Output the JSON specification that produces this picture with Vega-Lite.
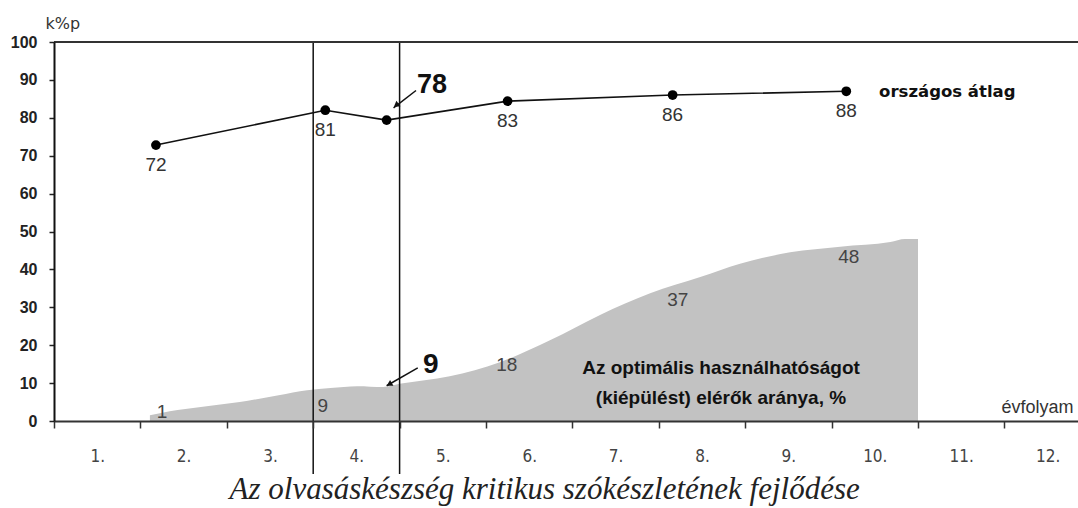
{
  "$schema": "https://vega.github.io/schema/vega-lite/v6.json",
  "width": 1024,
  "height": 379,
  "autosize": {"type": "none"},
  "padding": {"left": 54, "top": 42, "right": 0, "bottom": 87},
  "background": "white",
  "config": {"view": {"stroke": null}},
  "resolve": {"axis": {"x": "independent", "y": "independent"}},
  "title": {
    "text": "Az olvasáskészség kritikus szókészletének fejlődése",
    "orient": "bottom",
    "anchor": "middle",
    "frame": "bounds",
    "font": "Liberation Serif",
    "fontStyle": "italic",
    "fontWeight": "normal",
    "fontSize": 31,
    "color": "#222",
    "offset": 0
  },
  "datasets": {
    "kiepules": [
      {"grade": 1.11, "pct": 1.5},
      {"grade": 1.34, "pct": 2.6},
      {"grade": 1.7, "pct": 3.7},
      {"grade": 2.15, "pct": 5.0},
      {"grade": 2.6, "pct": 6.8},
      {"grade": 2.93, "pct": 8.1},
      {"grade": 3.2, "pct": 8.7},
      {"grade": 3.51, "pct": 9.2},
      {"grade": 3.81, "pct": 9.0},
      {"grade": 4.0, "pct": 9.8},
      {"grade": 4.58, "pct": 11.8},
      {"grade": 5.16, "pct": 15.5},
      {"grade": 5.74, "pct": 21.3},
      {"grade": 6.32, "pct": 28.0},
      {"grade": 6.9, "pct": 33.7},
      {"grade": 7.48, "pct": 38.0},
      {"grade": 7.94, "pct": 41.5},
      {"grade": 8.52, "pct": 44.5},
      {"grade": 9.1, "pct": 46.0},
      {"grade": 9.68, "pct": 47.2},
      {"grade": 9.85, "pct": 48.0},
      {"grade": 10.0, "pct": 48.0}
    ],
    "kiepules_labels": [
      {"grade": 1.25, "value": 2.3, "label": "1"},
      {"grade": 3.11, "value": 3.9, "label": "9"},
      {"grade": 5.24, "value": 14.8, "label": "18"},
      {"grade": 7.22, "value": 31.9, "label": "37"},
      {"grade": 9.2, "value": 43.2, "label": "48"}
    ],
    "atlag": [
      {"grade": 1.18, "value": 72.8, "label": "72"},
      {"grade": 3.14, "value": 82.0, "label": "81"},
      {"grade": 3.85, "value": 79.4, "label": ""},
      {"grade": 5.25, "value": 84.4, "label": "83"},
      {"grade": 7.16, "value": 86.0, "label": "86"},
      {"grade": 9.17, "value": 87.0, "label": "88"}
    ],
    "boundaries": [{"grade": 3}, {"grade": 4}],
    "notes": [
      {"grade": 9.55, "value": 86.7, "note": "országos átlag"}
    ],
    "areanote": [
      {"grade": 7.72, "value": 13.9, "note": "Az optimális használhatóságot\n(kiépülést) elérők aránya, %"}
    ],
    "callouts": [
      {"id": "a", "text": "78", "tgrade": 4.375, "tvalue": 88.6, "x1": 4.19, "y1": 87.2, "x2": 3.93, "y2": 82.6, "hx": 3.96, "hy": 83.3},
      {"id": "b", "text": "9", "tgrade": 4.36, "tvalue": 14.8, "x1": 4.21, "y1": 14.0, "x2": 3.85, "y2": 9.3, "hx": 3.88, "hy": 9.7}
    ]
  },
  "layer": [
    {
      "data": {"name": "kiepules"},
      "mark": {"type": "area", "color": "#c2c2c2", "interpolate": "monotone"},
      "encoding": {
        "x": {
          "field": "grade", "type": "quantitative",
          "scale": {"domain": [0, 11.852], "nice": false, "zero": false},
          "axis": {
            "values": [0, 0.5, 1, 1.5, 2, 2.5, 3, 3.5, 4, 4.5, 5, 5.5, 6, 6.5, 7, 7.5, 8, 8.5, 9, 9.5, 10, 10.5, 11, 11.5],
            "labelExpr": "datum.value % 1 === 0 ? '' : (floor(datum.value) + 1) + '.'",
            "tickOpacity": {"condition": {"test": "datum.value % 1 === 0", "value": 1}, "value": 0},
            "tickSize": 7, "tickWidth": 1.5, "tickColor": "#333",
            "domainColor": "#333", "domainWidth": 2,
            "labelFont": "Liberation Sans Narrow, DejaVu Sans Condensed, sans-serif",
            "labelFontSize": 17, "labelColor": "#444", "labelPadding": 20,
            "labelOverlap": false, "labelBound": false, "labelFlush": false,
            "grid": false,
            "title": "évfolyam", "titleX": 1019, "titleY": -14, "titleAlign": "right",
            "titleBaseline": "middle", "titleAngle": 0,
            "titleFont": "Liberation Sans", "titleFontSize": 18, "titleFontWeight": "normal", "titleColor": "#333",
            "zindex": 1
          }
        },
        "y": {
          "field": "pct", "type": "quantitative",
          "scale": {"domain": [0, 100], "nice": false},
          "axis": {
            "values": [0, 10, 20, 30, 40, 50, 60, 70, 80, 90, 100],
            "tickSize": 5, "tickWidth": 1.5, "tickColor": "#222",
            "domainColor": "#111", "domainWidth": 2,
            "labelFont": "Liberation Sans",
            "labelFontSize": 16, "labelFontWeight": "bold", "labelColor": "#222", "labelPadding": 12,
            "grid": false,
            "title": "k%p", "titleAngle": 0, "titleX": -9, "titleY": -19,
            "titleAlign": "left", "titleBaseline": "middle",
            "titleFont": "DejaVu Sans", "titleFontSize": 16, "titleFontWeight": "normal", "titleColor": "#333",
            "zindex": 1
          }
        }
      }
    },
    {
      "data": {"name": "boundaries"},
      "mark": {"type": "rule", "color": "#111", "strokeWidth": 1.5},
      "encoding": {
        "x": {"field": "grade", "type": "quantitative", "axis": null},
        "y": {"datum": -14, "type": "quantitative", "axis": null},
        "y2": {"datum": 100}
      }
    },
    {
      "data": {"values": [{}]},
      "mark": {"type": "rule", "color": "#333", "strokeWidth": 2},
      "encoding": {
        "y": {"datum": 100, "type": "quantitative", "axis": null}
      }
    },
    {
      "data": {"name": "atlag"},
      "mark": {"type": "line", "color": "#111", "strokeWidth": 1.6},
      "encoding": {
        "x": {"field": "grade", "type": "quantitative", "axis": null},
        "y": {"field": "value", "type": "quantitative", "axis": null}
      }
    },
    {
      "data": {"name": "atlag"},
      "mark": {"type": "point", "filled": true, "color": "#000", "size": 95, "opacity": 1},
      "encoding": {
        "x": {"field": "grade", "type": "quantitative", "axis": null},
        "y": {"field": "value", "type": "quantitative", "axis": null}
      }
    },
    {
      "data": {"name": "atlag"},
      "mark": {"type": "text", "font": "Liberation Sans", "fontSize": 19, "color": "#333", "dy": 20, "baseline": "middle", "align": "center"},
      "encoding": {
        "x": {"field": "grade", "type": "quantitative", "axis": null},
        "y": {"field": "value", "type": "quantitative", "axis": null},
        "text": {"field": "label"}
      }
    },
    {
      "data": {"name": "kiepules_labels"},
      "mark": {"type": "text", "font": "Liberation Sans", "fontSize": 19, "color": "#444", "baseline": "middle", "align": "center"},
      "encoding": {
        "x": {"field": "grade", "type": "quantitative", "axis": null},
        "y": {"field": "value", "type": "quantitative", "axis": null},
        "text": {"field": "label"}
      }
    },
    {
      "data": {"name": "notes"},
      "mark": {"type": "text", "font": "DejaVu Sans", "fontSize": 16.5, "fontWeight": "bold", "color": "#111", "baseline": "middle", "align": "left"},
      "encoding": {
        "x": {"field": "grade", "type": "quantitative", "axis": null},
        "y": {"field": "value", "type": "quantitative", "axis": null},
        "text": {"field": "note"}
      }
    },
    {
      "data": {"name": "areanote"},
      "mark": {"type": "text", "font": "Liberation Sans", "fontSize": 19, "fontWeight": "bold", "color": "#111", "baseline": "middle", "align": "center", "lineBreak": "\n", "lineHeight": 30},
      "encoding": {
        "x": {"field": "grade", "type": "quantitative", "axis": null},
        "y": {"field": "value", "type": "quantitative", "axis": null},
        "text": {"field": "note"}
      }
    },
    {
      "data": {"name": "callouts"},
      "mark": {"type": "rule", "color": "#111", "strokeWidth": 1.5},
      "encoding": {
        "x": {"field": "x1", "type": "quantitative", "axis": null},
        "y": {"field": "y1", "type": "quantitative", "axis": null},
        "x2": {"field": "x2"},
        "y2": {"field": "y2"}
      }
    },
    {
      "data": {"name": "callouts"},
      "transform": [{"filter": "datum.id === 'a'"}],
      "mark": {"type": "point", "shape": "triangle-up", "filled": true, "color": "#111", "size": 45, "angle": 232, "opacity": 1},
      "encoding": {
        "x": {"field": "hx", "type": "quantitative", "axis": null},
        "y": {"field": "hy", "type": "quantitative", "axis": null}
      }
    },
    {
      "data": {"name": "callouts"},
      "transform": [{"filter": "datum.id === 'b'"}],
      "mark": {"type": "point", "shape": "triangle-up", "filled": true, "color": "#111", "size": 45, "angle": 240, "opacity": 1},
      "encoding": {
        "x": {"field": "hx", "type": "quantitative", "axis": null},
        "y": {"field": "hy", "type": "quantitative", "axis": null}
      }
    },
    {
      "data": {"name": "callouts"},
      "transform": [{"filter": "datum.id === 'a'"}],
      "mark": {"type": "text", "font": "Liberation Sans", "fontSize": 27, "fontWeight": "bold", "color": "#111", "baseline": "middle", "align": "center"},
      "encoding": {
        "x": {"field": "tgrade", "type": "quantitative", "axis": null},
        "y": {"field": "tvalue", "type": "quantitative", "axis": null},
        "text": {"field": "text"}
      }
    },
    {
      "data": {"name": "callouts"},
      "transform": [{"filter": "datum.id === 'b'"}],
      "mark": {"type": "text", "font": "Liberation Sans", "fontSize": 28, "fontWeight": "bold", "color": "#111", "baseline": "middle", "align": "center"},
      "encoding": {
        "x": {"field": "tgrade", "type": "quantitative", "axis": null},
        "y": {"field": "tvalue", "type": "quantitative", "axis": null},
        "text": {"field": "text"}
      }
    }
  ]
}
